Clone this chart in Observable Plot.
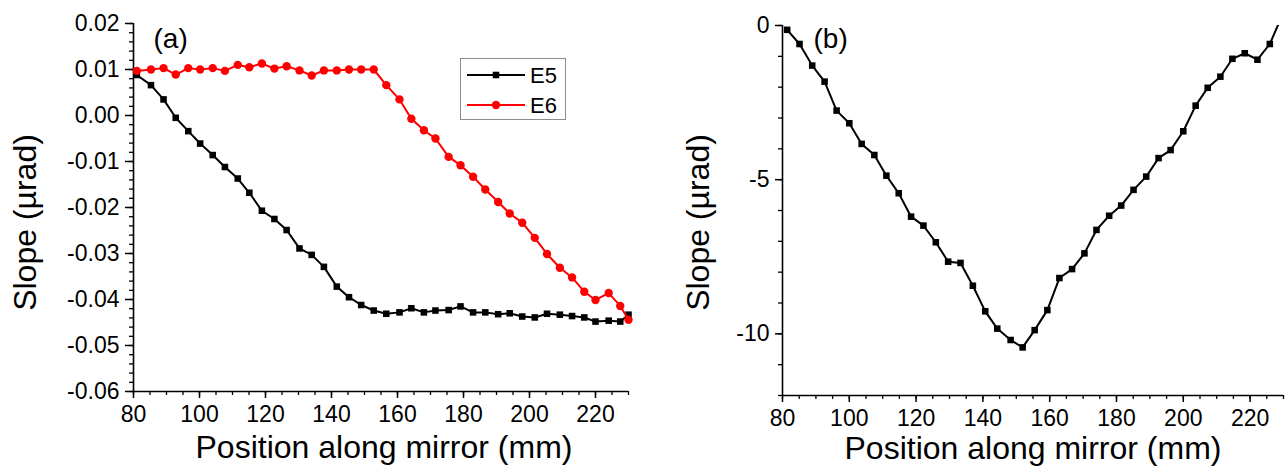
<!DOCTYPE html>
<html><head><meta charset="utf-8">
<script src="https://cdn.jsdelivr.net/npm/d3@7"></script>
<script src="https://cdn.jsdelivr.net/npm/@observablehq/plot@0.6"></script>
<style>
body{margin:0;background:#fff;}
#wrap{position:relative;width:1286px;height:471px;overflow:hidden;background:#fff;}
#a{position:absolute;left:0;top:0;}
#b{position:absolute;left:643px;top:0;}
#legend{position:absolute;left:460px;top:58px;}
</style></head><body>
<div id="wrap"><div id="a"></div><div id="b"></div><div id="legend"></div></div>
<script>
// ---- Panel (a) data ----
const posA = [81.0,85.3,89.1,92.8,96.6,100.2,104.0,107.7,111.6,115.1,118.9,122.7,126.4,130.3,134.0,137.7,141.6,145.3,149.0,152.8,156.6,160.6,164.2,168.0,171.5,175.5,179.1,182.9,186.6,190.5,194.0,197.8,201.6,205.3,209.2,212.9,216.6,220.0,224.0,227.5,230.0];
const slopeE5 = [0.0088,0.0066,0.0035,-0.0005,-0.0034,-0.0061,-0.0086,-0.0112,-0.0137,-0.0168,-0.0207,-0.0225,-0.0249,-0.0289,-0.0303,-0.0329,-0.0372,-0.0395,-0.0412,-0.0424,-0.0431,-0.0428,-0.0419,-0.0428,-0.0424,-0.0423,-0.0415,-0.0428,-0.0428,-0.0432,-0.0430,-0.0437,-0.0439,-0.0431,-0.0433,-0.0436,-0.0439,-0.0448,-0.0446,-0.0448,-0.0433];
const slopeE6 = [0.0097,0.0100,0.0103,0.0089,0.0103,0.0100,0.0103,0.0097,0.0110,0.0105,0.0113,0.0102,0.0107,0.0098,0.0087,0.0098,0.0098,0.0100,0.0100,0.0100,0.0066,0.0035,-0.0007,-0.0032,-0.0050,-0.0090,-0.0108,-0.0133,-0.0161,-0.0188,-0.0213,-0.0233,-0.0266,-0.0301,-0.0331,-0.0352,-0.0383,-0.0401,-0.0386,-0.0414,-0.0444];
const seriesNames = ["E5","E6"];
const seriesColors = ["#000000","#ff0000"];
const seriesSymbols = ["square","circle"];

// ---- Panel (b) data ----
const posB = [81.4,85.1,88.9,92.6,96.2,100.0,103.7,107.5,111.1,114.8,118.5,122.2,125.9,129.6,133.3,137.0,140.7,144.3,148.3,151.9,155.5,159.3,162.9,166.7,170.4,174.0,177.8,181.4,185.1,188.9,192.6,196.2,200.0,203.7,207.3,211.1,214.7,218.4,222.2,225.9,229.5];
const slopeB = [-0.14,-0.6,-1.3,-1.82,-2.76,-3.17,-3.84,-4.2,-4.87,-5.44,-6.2,-6.49,-7.03,-7.66,-7.7,-8.44,-9.27,-9.83,-10.2,-10.44,-9.88,-9.23,-8.19,-7.9,-7.39,-6.63,-6.17,-5.84,-5.33,-4.9,-4.3,-4.04,-3.43,-2.6,-2.02,-1.66,-1.08,-0.9,-1.11,-0.6,0.3];

// ---- Axes / labels ----
const xDomain = [80, 230];
const xTicks = [80,100,120,140,160,180,200,220];
const yDomainA = [-0.06, 0.02];
const yTicksA = [0.02,0.01,0,-0.01,-0.02,-0.03,-0.04,-0.05,-0.06];
const yDomainB = [-12, 0];
const yTicksB = [0,-5,-10];
const xTitle = "Position along mirror (mm)";
const yTitle = "Slope (\u00b5rad)";
const panelLabels = ["(a)","(b)"];

const font = '"Liberation Sans", Arial, Helvetica, sans-serif';
const xMinor = d3.range(16, 47).map(i => i * 5);
const yMinorA = d3.range(-30, 11).map(i => i * 0.002);
const yMinorB = d3.range(-12, 1);

const dataA = posA.map((x, i) => ({x, e5: slopeE5[i], e6: slopeE6[i]}));
const dataB = posB.map((x, i) => ({x, y: slopeB[i]}));

function commonAxes(yDomain, yMinor, yTicks, yFmt, yTickSize, yTickPad) {
  return [
    Plot.axisX({ticks: xMinor, tickSize: 4, tickFormat: () => "", label: null, strokeWidth: 1.3}),
    Plot.axisX({ticks: xTicks, tickSize: 7, tickPadding: 7, tickFormat: d => String(d), label: null, strokeWidth: 1.5}),
    Plot.axisY({ticks: yMinor, tickSize: 4, tickFormat: () => "", label: null, strokeWidth: 1.3}),
    Plot.axisY({ticks: yTicks, tickSize: yTickSize, tickPadding: yTickPad, tickFormat: yFmt, label: null, strokeWidth: 1.5}),
    Plot.ruleY([yDomain[0]], {stroke: "#000", strokeWidth: 1.6}),
    Plot.ruleX([xDomain[0]], {stroke: "#000", strokeWidth: 1.6})
  ];
}

const plotA = Plot.plot({
  width: 643, height: 471,
  marginLeft: 133, marginRight: 15, marginTop: 23, marginBottom: 80,
  style: {fontFamily: font, fontSize: "23px", color: "#000", background: "transparent", overflow: "visible"},
  x: {domain: xDomain},
  y: {domain: yDomainA},
  marks: [
    ...commonAxes(yDomainA, yMinorA, yTicksA, d => d.toFixed(2), 8, 6),
    Plot.line(dataA, {x: "x", y: "e5", stroke: seriesColors[0], strokeWidth: 2}),
    Plot.dot(dataA, {x: "x", y: "e5", symbol: seriesSymbols[0], r: 3.7, fill: seriesColors[0], stroke: "none"}),
    Plot.line(dataA, {x: "x", y: "e6", stroke: seriesColors[1], strokeWidth: 2}),
    Plot.dot(dataA, {x: "x", y: "e6", symbol: seriesSymbols[1], r: 4.2, fill: seriesColors[1], stroke: "none"}),
    Plot.text([xTitle], {frameAnchor: "bottom", textAnchor: "middle", lineAnchor: "bottom", dy: 66, dx: 3, fontSize: 32, fill: "#000"}),
    Plot.text([yTitle], {frameAnchor: "left", textAnchor: "middle", lineAnchor: "bottom", rotate: -90, dx: -98, dy: 15, fontSize: 32, fill: "#000"}),
    Plot.text([panelLabels[0]], {frameAnchor: "top-left", textAnchor: "start", lineAnchor: "bottom", dx: 20, dy: 24, fontSize: 28, fill: "#000"})
  ]
});
document.getElementById("a").append(plotA);

const plotB = Plot.plot({
  width: 643, height: 471,
  marginLeft: 139, marginRight: 3, marginTop: 25, marginBottom: 76,
  style: {fontFamily: font, fontSize: "23px", color: "#000", background: "transparent", overflow: "visible"},
  x: {domain: xDomain},
  y: {domain: yDomainB},
  marks: [
    ...commonAxes(yDomainB, yMinorB, yTicksB, d => String(d), 7, 6),
    Plot.line(dataB, {x: "x", y: "y", stroke: "#000", strokeWidth: 2, clip: true}),
    Plot.dot(dataB, {x: "x", y: "y", symbol: "square", r: 3.7, fill: "#000", stroke: "none", clip: true}),
    Plot.text([xTitle], {frameAnchor: "bottom", textAnchor: "middle", lineAnchor: "bottom", dy: 63, fontSize: 32, fill: "#000"}),
    Plot.text([yTitle], {frameAnchor: "left", textAnchor: "middle", lineAnchor: "bottom", rotate: -90, dx: -74, dy: 12, fontSize: 32, fill: "#000"}),
    Plot.text([panelLabels[1]], {frameAnchor: "top-left", textAnchor: "start", lineAnchor: "bottom", dx: 31, dy: 22, fontSize: 28, fill: "#000"})
  ]
});
document.getElementById("b").append(plotB);

// ---- Legend (HTML overlay SVG) ----
const lw = 106, lh = 62;
const lg = d3.select("#legend").append("svg").attr("width", lw).attr("height", lh)
  .style("font-family", font).style("font-size", "22px");
lg.append("rect").attr("x", 0.5).attr("y", 0.5).attr("width", lw - 1).attr("height", lh - 1)
  .attr("fill", "#fff").attr("stroke", "#8c8c8c").attr("stroke-width", 1);
seriesNames.forEach((name, i) => {
  const cy = 17 + i * 30;
  const g = lg.append("g");
  g.append("line").attr("x1", 7).attr("x2", 65).attr("y1", cy).attr("y2", cy)
    .attr("stroke", seriesColors[i]).attr("stroke-width", 2);
  g.append("path").attr("transform", `translate(36,${cy})`)
    .attr("d", d3.symbol(seriesSymbols[i] === "square" ? d3.symbolSquare : d3.symbolCircle, i === 0 ? 43 : 55)())
    .attr("fill", seriesColors[i]);
  g.append("text").attr("x", 70).attr("y", cy).attr("dy", "0.36em").attr("fill", "#000").text(name);
});
</script>
</body></html>
